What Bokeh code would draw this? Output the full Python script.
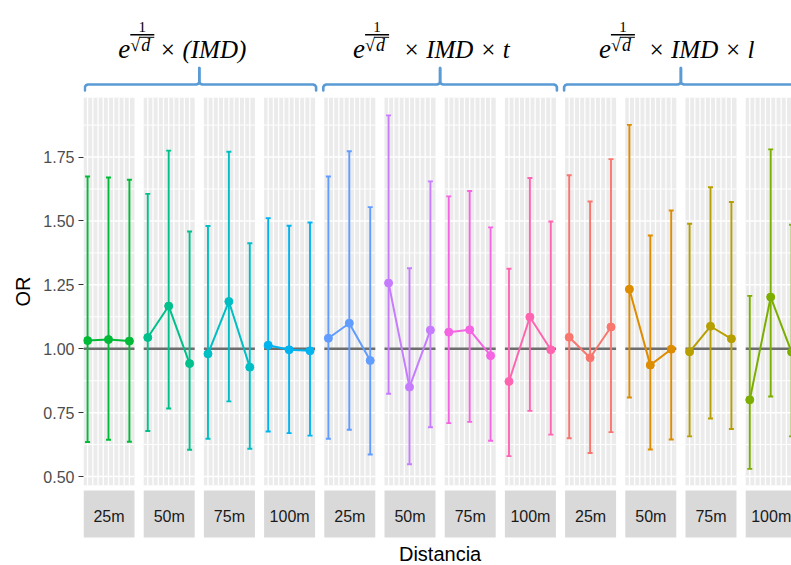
from bokeh.plotting import figure
from bokeh.models import Range1d, FixedTicker, NumeralTickFormatter, ColumnDataSource
from bokeh.layouts import column
from bokeh.embed import file_html
from bokeh.resources import INLINE
from bokeh.core.properties import value

# ---------------- data ----------------
distances = ["25m", "50m", "75m", "100m"]
model_tails = ["\u00d7 (IMD)", "\u00d7 IMD \u00d7 t", "\u00d7 IMD \u00d7 l"]
sub_levels = [1, 2, 3]

or_est = [
    [1.032, 1.036, 1.030],
    [1.044, 1.167, 0.942],
    [0.980, 1.185, 0.928],
    [1.014, 0.996, 0.992],
    [1.041, 1.100, 0.954],
    [1.257, 0.850, 1.073],
    [1.065, 1.074, 0.973],
    [0.872, 1.124, 0.996],
    [1.045, 0.965, 1.085],
    [1.233, 0.936, 0.998],
    [0.988, 1.088, 1.039],
    [0.800, 1.202, 0.987],
]
ci_low = [
    [0.635, 0.644, 0.636],
    [0.678, 0.766, 0.605],
    [0.648, 0.794, 0.609],
    [0.676, 0.670, 0.660],
    [0.648, 0.683, 0.586],
    [0.824, 0.548, 0.693],
    [0.709, 0.714, 0.640],
    [0.580, 0.757, 0.664],
    [0.650, 0.592, 0.674],
    [0.809, 0.606, 0.645],
    [0.657, 0.727, 0.686],
    [0.530, 0.813, 0.657],
]
ci_high = [
    [1.674, 1.670, 1.661],
    [1.606, 1.775, 1.459],
    [1.480, 1.771, 1.413],
    [1.511, 1.481, 1.494],
    [1.674, 1.773, 1.554],
    [1.913, 1.315, 1.655],
    [1.596, 1.617, 1.475],
    [1.313, 1.668, 1.498],
    [1.679, 1.576, 1.742],
    [1.876, 1.443, 1.541],
    [1.489, 1.632, 1.574],
    [1.207, 1.780, 1.485],
]
panel_colors = ["#00BA38", "#00C08B", "#00BFC4", "#00B4F0",
                "#619CFF", "#C77CFF", "#F564E3", "#FF64B0",
                "#F8766D", "#DE8C00", "#B79F00", "#7CAE00"]
y_ticks = [0.50, 0.75, 1.00, 1.25, 1.50, 1.75]
y_minor = [0.625, 0.875, 1.125, 1.375, 1.625, 1.875]
ref_value = 1.0

# ---------------- layout constants ----------------
U = 51.0              # px per panel unit
STEP = 60.2 / U       # panel pitch (panel width = 1)
LEFT = 83
W = 791
FRAME_W = W - LEFT
X_END = FRAME_W / U
Y_LO, Y_HI = 0.465, 1.983
N_PANELS = len(or_est)
FONT = value("Liberation Sans")
SERIF = value("Liberation Serif")


def pstart(i):
    return i * STEP


def sub_x(k):
    return 0.08 + (k - 1) * 0.41


def base_fig(height, x_range, y_range, top=0, bottom=0):
    f = figure(width=W, height=height, x_range=x_range, y_range=y_range, title=None,
               x_axis_type=None, output_backend="svg", toolbar_location=None,
               min_border_left=LEFT, min_border_right=0, min_border_top=top, min_border_bottom=bottom,
               background_fill_color="white", border_fill_color="white", outline_line_color=None)
    return f


xr = Range1d(0, X_END)

# ---------------- main panel figure ----------------
main = base_fig(396, xr, Range1d(Y_LO, Y_HI), top=4, bottom=4)
main.grid.visible = False
ya = main.yaxis[0]
ya.ticker = FixedTicker(ticks=y_ticks, minor_ticks=[])
ya.formatter = NumeralTickFormatter(format="0.00")
ya.axis_line_color = None
ya.major_tick_line_color = "#333333"
ya.major_tick_line_width = 1.2
ya.major_tick_out = 5
ya.major_tick_in = 0
ya.minor_tick_line_color = None
ya.major_label_text_font = "Liberation Sans"
ya.major_label_text_font_size = "16px"
ya.major_label_text_color = "#4D4D4D"
ya.major_label_standoff = 4
ya.axis_label = "OR"
ya.axis_label_text_font = "Liberation Sans"
ya.axis_label_text_font_size = "20px"
ya.axis_label_text_font_style = "normal"
ya.axis_label_text_color = "black"
ya.axis_label_standoff = 6

lefts = [pstart(i) for i in range(N_PANELS)]
rights = [pstart(i) + 1 for i in range(N_PANELS)]
main.quad(left=lefts, right=rights, bottom=Y_LO, top=Y_HI, fill_color="#EBEBEB", line_color=None)

# grid lines inside each panel
hx0, hx1, hy, hw = [], [], [], []
for i in range(N_PANELS):
    for yv in y_minor:
        hx0.append(lefts[i]); hx1.append(rights[i]); hy.append(yv); hw.append(1.0)
    for yv in y_ticks:
        hx0.append(lefts[i]); hx1.append(rights[i]); hy.append(yv); hw.append(1.5)
main.segment(x0=hx0, y0=hy, x1=hx1, y1=hy, line_color="white", line_width=hw)

vx = []
for i in range(N_PANELS):
    k = 1.0
    while k <= 3.0001:
        vx.append(lefts[i] + sub_x(k))
        k += 0.25
main.segment(x0=vx, y0=Y_LO, x1=vx, y1=Y_HI, line_color="white", line_width=1.3)

# reference line at OR = 1
main.segment(x0=lefts, y0=ref_value, x1=rights, y1=ref_value, line_color="#6E6E6E", line_width=2.6)

# data
px, py, plo, phi, pc = [], [], [], [], []
lxs, lys, lc = [], [], []
for i in range(N_PANELS):
    xs = [lefts[i] + sub_x(k) for k in sub_levels]
    px += xs; py += or_est[i]; plo += ci_low[i]; phi += ci_high[i]
    pc += [panel_colors[i]] * len(xs)
    lxs.append(xs); lys.append(or_est[i]); lc.append(panel_colors[i])

cap = 2.5 / U
src = ColumnDataSource(dict(x=px, y=py, lo=plo, hi=phi, c=pc,
                            xl=[v - cap for v in px], xr=[v + cap for v in px]))
main.segment(x0="x", y0="lo", x1="x", y1="hi", line_color="c", line_width=1.9, source=src)
main.segment(x0="xl", y0="lo", x1="xr", y1="lo", line_color="c", line_width=1.9, source=src)
main.segment(x0="xl", y0="hi", x1="xr", y1="hi", line_color="c", line_width=1.9, source=src)
main.multi_line(xs=lxs, ys=lys, line_color=lc, line_width=2.0)
main.scatter(x="x", y="y", size=8, fill_color="c", line_color="c", source=src)

# ---------------- bottom (strips + x title) ----------------
bottom = base_fig(76, xr, Range1d(start=565, end=489))
bottom.yaxis.visible = False
bottom.grid.visible = False
bottom.quad(left=lefts, right=rights, bottom=537, top=490, fill_color="#D9D9D9", line_color=None)
strip_text = [distances[i % len(distances)] for i in range(N_PANELS)]
bottom.text(x=[l + 0.5 for l in lefts], y=516, text=strip_text, text_font=FONT,
            text_font_size="16px", text_color="#1A1A1A", text_align="center", text_baseline="middle")
span_mid = (lefts[0] + rights[-1]) / 2
bottom.text(x=[span_mid], y=[553], text=["Distancia"], text_font=FONT, text_font_size="20px",
            text_color="black", text_align="center", text_baseline="middle")

# ---------------- top (braces + model formulas) ----------------
top = base_fig(93, xr, Range1d(start=93, end=0))
top.yaxis.visible = False
top.grid.visible = False

n_groups = len(model_tails)
per = len(distances)
bxs, bys = [], []
mids = []
for g in range(n_groups):
    x0 = max(lefts[g * per] - 1 / U, 1.4 / U)
    x1 = rights[g * per + per - 1] + 1 / U
    xm = (lefts[g * per] - 1 / U + x1) / 2
    mids.append(xm)
    d = 1 / U
    bxs.append([x0, x0, x0 + 1 * d, x0 + 3 * d, xm - 3 * d, xm - 1 * d, xm, xm])
    bys.append([90.0, 86.5, 84.8, 84.0, 84.0, 83.3, 81.5, 67.5])
    bxs.append([x1, x1, x1 - 1 * d, x1 - 3 * d, xm + 3 * d, xm + 1 * d, xm, xm])
    bys.append([90.0, 86.5, 84.8, 84.0, 84.0, 83.3, 81.5, 67.5])
top.multi_line(xs=bxs, ys=bys, line_color="#5B9BD5", line_width=2.6, line_join="round", line_cap="round")

e_off = [-81, -87, -82]
tail_off = [41, 50, 49]
for g in range(n_groups):
    xm = mids[g]
    eo = e_off[g]
    top.text(x=[xm], y=[48], text=["e"], x_offset=eo, text_font=SERIF, text_font_style="italic",
             text_font_size="27px", text_color="black", text_align="left", text_baseline="middle")
    top.text(x=[xm], y=[26.5], text=["1"], x_offset=eo + 24, text_font=SERIF,
             text_font_size="15px", text_color="black", text_align="center", text_baseline="middle")
    top.segment(x0=[xm + (eo + 12) / U], y0=[34.3], x1=[xm + (eo + 36) / U], y1=[34.3],
                line_color="black", line_width=1.6)
    top.text(x=[xm], y=[44.5], text=["\u221a"], x_offset=eo + 12, text_font=SERIF,
             text_font_size="18px", text_color="black", text_align="left", text_baseline="middle")
    top.text(x=[xm], y=[44.5], text=["d"], x_offset=eo + 23, text_font=SERIF, text_font_style="italic",
             text_font_size="18px", text_color="black", text_align="left", text_baseline="middle")
    top.segment(x0=[xm + (eo + 21) / U], y0=[36.8], x1=[xm + (eo + 36) / U], y1=[36.8],
                line_color="black", line_width=1.0)
    top.text(x=[xm], y=[48.5], text=[model_tails[g]], x_offset=eo + tail_off[g], text_font=SERIF,
             text_font_style="italic", text_font_size="25px", text_color="black",
             text_align="left", text_baseline="middle")

layout = column(top, main, bottom, spacing=0)
open("out.html", "w").write(file_html(layout, INLINE, title="OR por distancia"))
